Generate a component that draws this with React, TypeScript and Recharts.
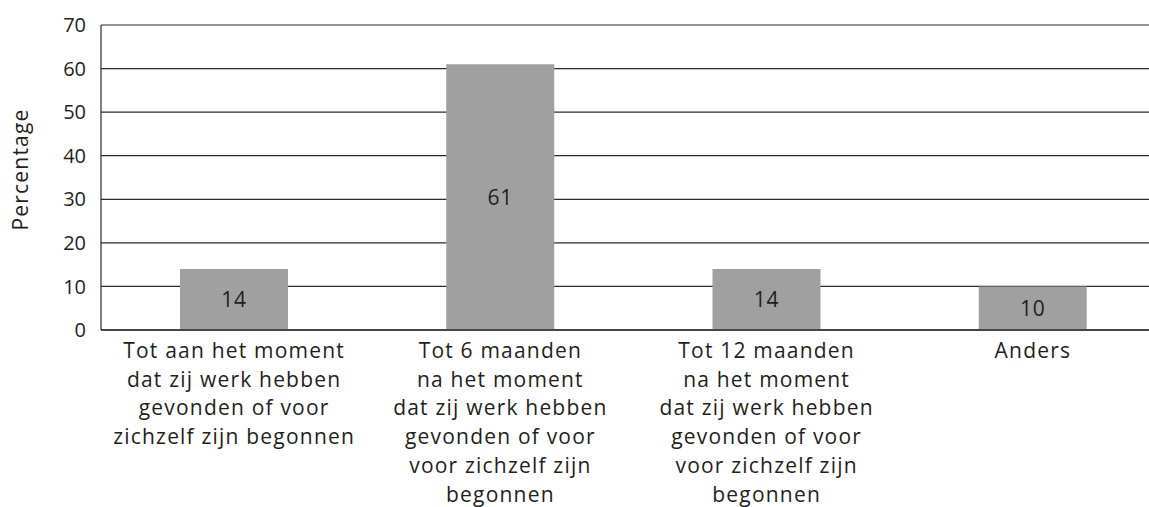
import { BarChart, Bar, XAxis, YAxis, CartesianGrid, LabelList } from 'recharts'

const categories = [
  ['Tot aan het moment', 'dat zij werk hebben', 'gevonden of voor', 'zichzelf zijn begonnen'],
  ['Tot 6 maanden', 'na het moment', 'dat zij werk hebben', 'gevonden of voor', 'voor zichzelf zijn', 'begonnen'],
  ['Tot 12 maanden', 'na het moment', 'dat zij werk hebben', 'gevonden of voor', 'voor zichzelf zijn', 'begonnen'],
  ['Anders'],
]
const percentages = [14, 61, 14, 10]
const yTicks = [0, 10, 20, 30, 40, 50, 60, 70]

const data = categories.map((lines, i) => ({ name: lines.join(' '), value: percentages[i] }))

const FONT = '"Open Sans", sans-serif'
const TEXT = '#231f20'

function CategoryTick({ x, y, index }: any) {
  const lines = categories[index] || []
  return (
    <text x={x} y={y + 20} textAnchor="middle" fontSize={21} letterSpacing={1.2} fill={TEXT} fontFamily={FONT}>
      {lines.map((l, i) => (
        <tspan key={i} x={x} dy={i === 0 ? 0 : 28.7}>
          {l}
        </tspan>
      ))}
    </text>
  )
}

export default function App() {
  return (
    <div style={{ position: 'fixed', left: 0, top: 0, width: 1149, height: 507, overflow: 'hidden', background: '#fff' }}>
      <BarChart
        width={1166}
        height={507}
        data={data}
        margin={{ top: 25, right: 0, bottom: 0, left: 0 }}
        barSize={108}
      >
        <CartesianGrid vertical={false} stroke="#2b2b2b" strokeWidth={1.2} />
        <XAxis
          dataKey="name"
          height={177}
          interval={0}
          tick={<CategoryTick />}
          tickLine={false}
          axisLine={{ stroke: '#2b2b2b', strokeWidth: 1.5 }}
        />
        <YAxis
          width={101}
          domain={[0, 70]}
          ticks={yTicks}
          interval={0}
          tickSize={0}
          tickMargin={15}
          tickLine={false}
          axisLine={{ stroke: '#2b2b2b', strokeWidth: 1.2 }}
          tick={{ fontSize: 20, fill: TEXT, fontFamily: FONT }}
          label={{
            value: 'Percentage',
            angle: -90,
            position: 'insideLeft',
            dx: 16,
            dy: -8,
            style: { fontSize: 21, letterSpacing: 1.2, fill: TEXT, fontFamily: FONT, textAnchor: 'middle' },
          }}
        />
        <Bar dataKey="value" fill="#a0a0a1" isAnimationActive={false}>
          <LabelList
            dataKey="value"
            position="center"
            fontSize={21}
            letterSpacing={0.8}
            fill={TEXT}
            fontFamily={FONT}
          />
        </Bar>
      </BarChart>
    </div>
  )
}
